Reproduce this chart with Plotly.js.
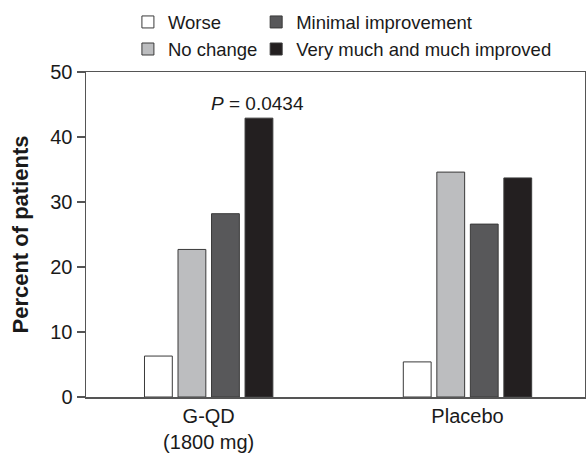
<!DOCTYPE html>
<html>
<head>
<meta charset="utf-8">
<script src="https://cdn.plot.ly/plotly-3.0.1.min.js"></script>
<style>html,body{margin:0;padding:0;background:#fff;}#chart{width:586px;height:453px;}</style>
</head>
<body>
<div id="chart"></div>
<script>
const categories = ['G-QD<br>(1800 mg)', 'Placebo'];
const seriesNames = ['Worse', 'No change', 'Minimal improvement', 'Very much and much improved'];
const worse = [6.3, 5.4];
const noChange = [22.7, 34.6];
const minimalImprovement = [28.2, 26.6];
const veryMuchImproved = [42.9, 33.7];
const yTickVals = [0, 10, 20, 30, 40, 50];
const pValueLabel = '<i>P</i> = 0.0434';

const colors = ['#ffffff', '#bcbdbf', '#58585a', '#231f20'];
const seriesValues = [worse, noChange, minimalImprovement, veryMuchImproved];
const legendIds = ['legend', 'legend', 'legend2', 'legend2'];

const font = 'Liberation Sans, Arial, Helvetica, sans-serif';

const traces = seriesValues.map((vals, i) => ({
  type: 'bar',
  name: seriesNames[i],
  x: categories,
  y: vals,
  legend: legendIds[i],
  legendgroup: 'g' + i,
  marker: {color: colors[i], line: {color: '#3a3a3a', width: 1}},
  hoverinfo: 'skip'
}));

const legendCommon = {
  orientation: 'v',
  bgcolor: 'rgba(0,0,0,0)',
  borderwidth: 0,
  font: {family: font, size: 18.5, color: '#1a1a1a'},
  xref: 'paper', yref: 'paper',
  xanchor: 'left', yanchor: 'top',
  tracegroupgap: 3,
  traceorder: 'normal'
};

const layout = {
  width: 586, height: 453,
  margin: {l: 86, r: 1, t: 72, b: 56, pad: 0},
  paper_bgcolor: '#ffffff',
  plot_bgcolor: '#ffffff',
  font: {family: font, color: '#1a1a1a'},
  barmode: 'group',
  bargap: 0.482,
  bargroupgap: 0.17,
  showlegend: true,
  legend: Object.assign({}, legendCommon, {x: 0.084, y: 1.211}),
  legend2: Object.assign({}, legendCommon, {x: 0.341, y: 1.211}),
  xaxis: {
    type: 'category',
    range: [-0.474, 1.454],
    showgrid: false,
    zeroline: false,
    showline: true,
    linecolor: '#555555',
    linewidth: 1.5,
    mirror: true,
    ticks: '',
    tickfont: {family: font, size: 20, color: '#1a1a1a'},
    fixedrange: true
  },
  yaxis: {
    range: [0, 50],
    tickvals: yTickVals,
    showgrid: false,
    zeroline: false,
    showline: true,
    linecolor: '#555555',
    linewidth: 1.5,
    mirror: true,
    ticks: 'outside',
    ticklen: 8,
    tickwidth: 1.5,
    tickcolor: '#555555',
    tickfont: {family: font, size: 20, color: '#1a1a1a'},
    title: {text: '<b>Percent of patients</b>', font: {family: font, size: 22, color: '#1a1a1a'}, standoff: 15},
    fixedrange: true
  },
  annotations: [{
    text: pValueLabel,
    x: 0, y: 45.2,
    xref: 'x', yref: 'y',
    xanchor: 'left', yanchor: 'middle',
    showarrow: false,
    font: {family: font, size: 19, color: '#1a1a1a'}
  }]
};

Plotly.newPlot('chart', traces, layout, {displayModeBar: false, staticPlot: true});
</script>
</body>
</html>
